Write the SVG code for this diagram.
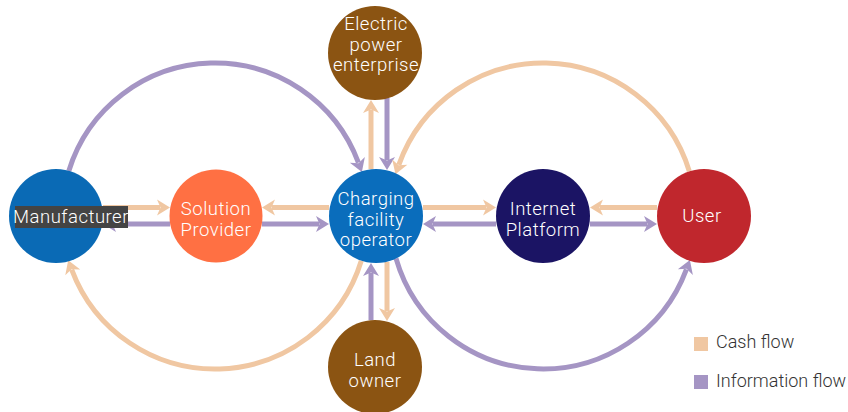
<svg xmlns="http://www.w3.org/2000/svg" width="848" height="412" viewBox="0 0 848 412">
<style>
.cash{fill:none;stroke:#F0C7A2;stroke-width:5}
.info{fill:none;stroke:#A595C4;stroke-width:5}
.cashm{marker-end:url(#mc)}
.infom{marker-end:url(#mi)}
.lbl{font-family:Roboto,"Liberation Sans",sans-serif;font-weight:300;font-size:18.5px;letter-spacing:0.5px;fill:#FFFFFF;text-anchor:middle}
.leg{font-family:Roboto,"Liberation Sans",sans-serif;font-weight:300;font-size:18px;fill:#333333}
</style>
<defs>
<marker id="mc" markerUnits="userSpaceOnUse" markerWidth="14" markerHeight="16" refX="3" refY="8" orient="auto" overflow="visible">
<path d="M0,0 L13,8 L0,16 L3.5,8 Z" fill="#F0C7A2"/>
</marker>
<marker id="mi" markerUnits="userSpaceOnUse" markerWidth="14" markerHeight="16" refX="3" refY="8" orient="auto" overflow="visible">
<path d="M0,0 L13,8 L0,16 L3.5,8 Z" fill="#A595C4"/>
</marker>
</defs>
<rect width="848" height="412" fill="#FFFFFF"/>
<g id="connectors">
<line class="cash cashm" x1="103" y1="207.5" x2="160" y2="207.5"/>
<line class="info infom" x1="170" y1="224" x2="113" y2="224"/>
<line class="cash cashm" x1="329" y1="207.5" x2="272" y2="207.5"/>
<line class="info infom" x1="262" y1="224" x2="319" y2="224"/>
<line class="cash cashm" x1="423" y1="207.5" x2="486" y2="207.5"/>
<line class="info infom" x1="496" y1="224" x2="433" y2="224"/>
<line class="cash cashm" x1="657" y1="207.5" x2="600" y2="207.5"/>
<line class="info infom" x1="590" y1="224" x2="647" y2="224"/>
<line class="cash cashm" x1="371" y1="169" x2="371" y2="110"/>
<line class="info infom" x1="387" y1="98" x2="387" y2="160"/>
<line class="info infom" x1="371" y1="320" x2="371" y2="273"/>
<line class="cash cashm" x1="387" y1="262" x2="387" y2="311"/>
<path class="info infom" d="M68.8,170.9 A153,153 0 0 1 358.4,162.7"/>
<path class="cash cashm" d="M361.3,260.8 A153,153 0 0 1 71.7,269.6"/>
<path class="cash cashm" d="M689.3,171.2 A153,153 0 0 0 398.8,164.9"/>
<path class="info infom" d="M396,258.4 A153,153 0 0 0 686.4,269.3"/>
</g>
<g id="manufacturer">
<circle cx="56" cy="216" r="47" fill="#0A6AB5"/>
<rect x="15" y="206" width="113" height="22" fill="#444444"/>
<text class="lbl" x="71" y="223" font-size="18" letter-spacing="0">Manufacturer</text>
</g>
<g id="solution-provider">
<circle cx="216" cy="216" r="46.5" fill="#FF7043"/>
<text class="lbl" x="216" y="215">Solution</text>
<text class="lbl" x="216" y="236">Provider</text>
</g>
<g id="charging-facility-operator">
<circle cx="376" cy="216" r="47" fill="#0A6DBC"/>
<text class="lbl" x="376" y="205">Charging</text>
<text class="lbl" x="376" y="226">facility</text>
<text class="lbl" x="376" y="246">operator</text>
</g>
<g id="electric-power-enterprise">
<circle cx="375" cy="53" r="47" fill="#8B5412"/>
<text class="lbl" x="376" y="30">Electric</text>
<text class="lbl" x="376" y="51">power</text>
<text class="lbl" x="376" y="71">enterprise</text>
</g>
<g id="land-owner">
<circle cx="375" cy="367" r="47" fill="#8B5412"/>
<text class="lbl" x="375" y="366">Land</text>
<text class="lbl" x="375" y="387">owner</text>
</g>
<g id="internet-platform">
<circle cx="543" cy="216" r="47" fill="#1B1464"/>
<text class="lbl" x="543" y="215">Internet</text>
<text class="lbl" x="543" y="236">Platform</text>
</g>
<g id="user">
<circle cx="704" cy="216" r="47" fill="#C0272D"/>
<text class="lbl" x="702" y="222">User</text>
</g>
<g id="legend">
<rect x="694" y="337" width="14" height="14" fill="#F0C7A2"/>
<text class="leg" x="716" y="348">Cash flow</text>
<rect x="694" y="375" width="14" height="14" fill="#A595C4"/>
<text class="leg" x="716" y="387">Information flow</text>
</g>
</svg>
